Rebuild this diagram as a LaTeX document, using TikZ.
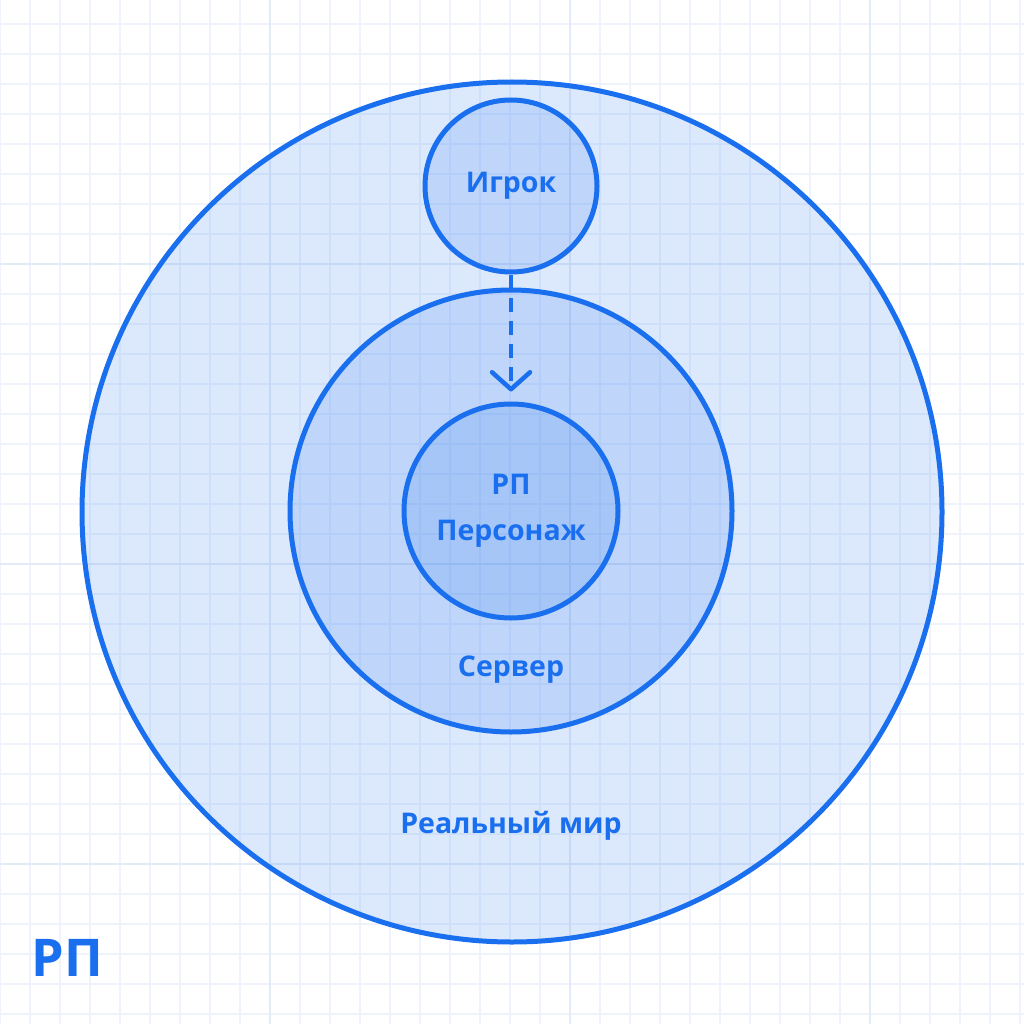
\documentclass[tikz,border=0pt]{standalone}
\usepackage{fontspec}
\setmainfont{Open Sans}
\usetikzlibrary{arrows.meta}
\definecolor{bl}{HTML}{1A6FEF}
\definecolor{gridc}{HTML}{EEF3FC}
\definecolor{gridm}{HTML}{E3EBF8}
\begin{document}
\begin{tikzpicture}[x=1pt,y=-1pt,
  circ/.style={circle,draw=bl,line width=5pt,fill=bl,fill opacity=0.15,text opacity=1,inner sep=0pt},
  lab/.style={text=bl,font=\fontsize{28.5}{46}\selectfont\bfseries}]
\fill[white] (0,0) rectangle (1024,1024);
\useasboundingbox (0,0) rectangle (1024,1024);
\foreach \i in {0,...,34}{
  \draw[gridc,line width=2pt] (\i*30,0) -- (\i*30,1024);
  \draw[gridc,line width=2pt] (0,24+\i*30) -- (1024,24+\i*30);}
\foreach \i in {270,570,870}{
  \draw[gridm,line width=2pt] (\i,0) -- (\i,1024);
  \draw[gridm,line width=2pt] (0,\i-6) -- (1024,\i-6);}
\node[circ,minimum size=860pt] (world) at (512,512) {};
\node[circ,minimum size=442pt] (server) at (511,511) {};
\node[circ,minimum size=214pt] (char) at (511,511) {};
\node[circ,minimum size=172pt] (player) at (511,186) {};
\node[lab] at (player.center) {Игрок};
\node[lab,align=center] at (char.center) {РП\\Персонаж};
\node[lab] at (511,670) {Сервер};
\node[lab] at (511,826) {Реальный мир};
\node[text=bl,font=\fontsize{52}{56}\selectfont\bfseries,anchor=west] at (28,958) {РП};
\draw[bl,line width=4.5pt,dash pattern=on 14pt off 9pt,-{Straight Barb[length=17pt,width=38pt,line width=4.5pt,line cap=round,line join=round]}] (player.south) -- ([yshift=10pt]char.north);
\end{tikzpicture}
\end{document}
